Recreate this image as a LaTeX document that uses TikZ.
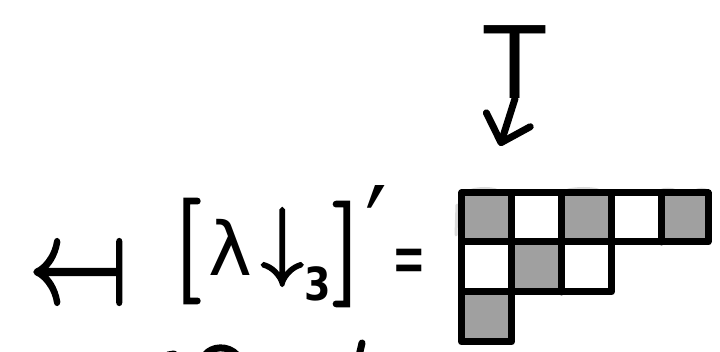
\documentclass[tikz,border=0pt]{standalone}
\usepackage{fontspec}
\setmainfont{DejaVu Sans}
\newfontfamily\lmmath[FakeBold=2.4]{latinmodern-math.otf}
\usetikzlibrary{arrows.meta}
\definecolor{cellgray}{HTML}{A0A0A0}
\definecolor{smudgegray}{HTML}{DADADA}
\newcommand{\glyphat}[3]{\makebox[0pt]{\raisebox{\dimexpr #1-.5\height+.5\depth\relax}{\fontsize{#2}{#2}\selectfont #3}}}
\begin{document}
\begin{tikzpicture}[x=1pt,y=-1pt,
  hand/.style={line width=7pt, line cap=round, line join=round},
  gridline/.style={line width=7pt, line cap=round, line join=round},
  smudge/.style={line width=3pt, line cap=round, color=smudgegray},
  glyph/.style={inner sep=0pt, font=\fontsize{#1}{#1}\selectfont},
  gcell/.style={fill=cellgray}]
\useasboundingbox (0,0) rectangle (720,352);
% maps-from sign
\node[glyph=100, yscale=1.25] (mapsto) at (78,272) {\lmmath\bfseries ↤};
% handwritten formula, one text with placed glyphs
\node[anchor=base west, inner sep=0pt] (expr) at (187,289) {%
\glyphat{38pt}{104}{\lmmath\bfseries [}\kern43pt
\glyphat{42pt}{74}{λ}\kern52pt
\glyphat{42pt}{88}{\lmmath\bfseries ↓}\kern36pt
\glyphat{5pt}{38}{\bfseries\scalebox{1}[1.2]{3}}\kern28pt
\glyphat{35pt}{104}{\lmmath\bfseries ]}\kern30pt
\glyphat{58pt}{96}{\scalebox{1}[1.3]{′}}\kern33pt
\glyphat{22pt}{40}{\scalebox{1}[2]{=}}%
};
% T with its arrow
\node[glyph=100] (T) at (515,62) {T};
\coordinate (tip) at (500,146);
\draw[hand,-{Straight Barb[length=24pt,width=46pt,line cap=round,line join=round]}] (T.south) -- (tip);
% smudges
\draw[smudge] (472,190) .. controls (480,188) and (490,188) .. (496,190);
\draw[smudge] (568,190) .. controls (578,188) and (590,188) .. (598,190);
\draw[smudge] (662,190) .. controls (666,189) and (670,189) .. (674,190);
\draw[smudge] (697,190) .. controls (700,189) and (703,189) .. (706,190);
\draw[smudge] (457,205) -- (456,235);
% grid cells
\fill[gcell] (461.5,193) rectangle (511.5,242);
\fill[gcell] (561.5,193) rectangle (611.5,242);
\fill[gcell] (661.5,193) rectangle (708,242);
\fill[gcell] (511.5,242) rectangle (561.5,292);
\fill[gcell] (461.5,292) rectangle (511.5,342);
\draw[gridline] (461.5,342) -- (461.5,193) -- (708,193) -- (708,242) -- (611.5,242) -- (611.5,292) -- (511.5,292) -- (511.5,342) -- cycle;
\draw[gridline] (461.5,242) -- (611.5,242);
\draw[gridline] (461.5,292) -- (511.5,292);
\draw[gridline] (511.5,193) -- (511.5,292);
\draw[gridline] (561.5,193) -- (561.5,292);
\draw[gridline] (611.5,193) -- (611.5,242);
\draw[gridline] (661.5,193) -- (661.5,242);
% cut-off strokes of the next line
\draw[hand] (205,355) .. controls (212,346) and (228,345) .. (237,355);
\draw[hand] (168,355) -- (174,354);
\draw[hand] (362,343) -- (359,356);
\end{tikzpicture}
\end{document}
